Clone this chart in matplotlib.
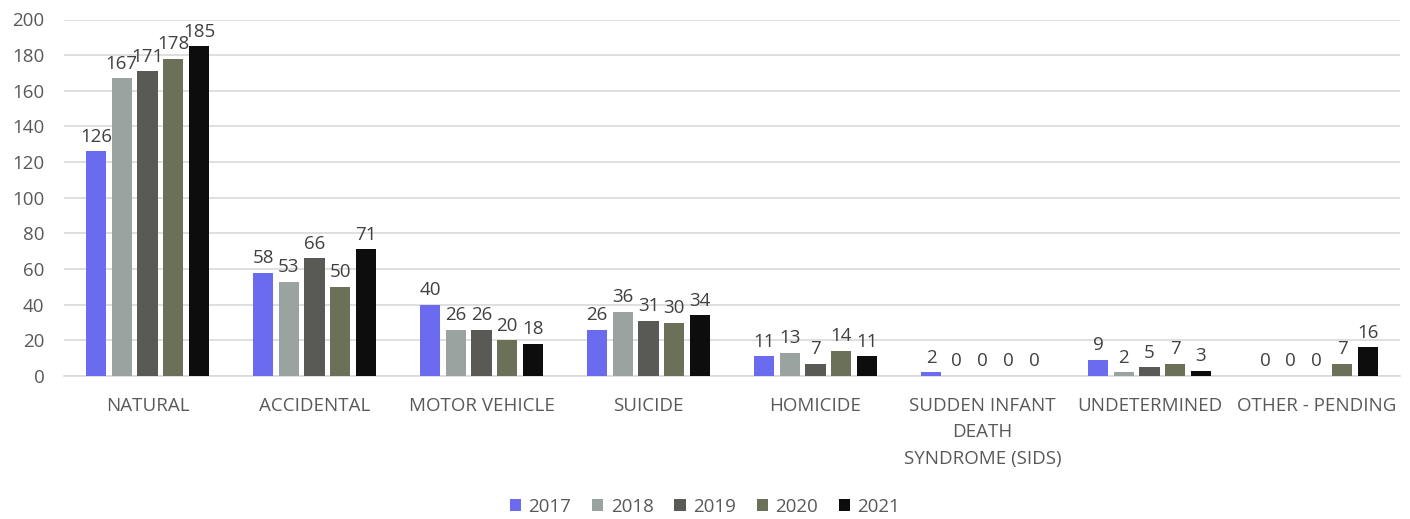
import numpy as np
import matplotlib.pyplot as plt

categories = ['NATURAL', 'ACCIDENTAL', 'MOTOR VEHICLE', 'SUICIDE', 'HOMICIDE',
              'SUDDEN INFANT\nDEATH\nSYNDROME (SIDS)', 'UNDETERMINED', 'OTHER - PENDING']
years = ['2017', '2018', '2019', '2020', '2021']
v2017 = [126, 58, 40, 26, 11, 2, 9, 0]
v2018 = [167, 53, 26, 36, 13, 0, 2, 0]
v2019 = [171, 66, 26, 31, 7, 0, 5, 0]
v2020 = [178, 50, 20, 30, 14, 0, 7, 7]
v2021 = [185, 71, 18, 34, 11, 0, 3, 16]
series = [v2017, v2018, v2019, v2020, v2021]
colors = ['#6B6BF0', '#9AA3A0', '#595A55', '#6B7059', '#0D0D0D']

plt.rcParams['font.family'] = ['Open Sans', 'DejaVu Sans']
txt = '#595959'
fs = 13.5

fig = plt.figure(figsize=(14.1, 5.19), dpi=100)
ax = fig.add_axes([64 / 1410, 1 - 376 / 519, 1336 / 1410, (376 - 19.5) / 519])

x = np.arange(len(categories))
step = 0.154
width = 0.12
for i, (vals, c, yr) in enumerate(zip(series, colors, years)):
    pos = x + (i - 2) * step
    bars = ax.bar(pos, vals, width, color=c, label=yr, zorder=3)
    ax.bar_label(bars, labels=[str(v) for v in vals], padding=4,
                 fontsize=fs, color='#404040')

ax.set_xlim(-0.5, len(categories) - 0.5)
ax.set_ylim(0, 200)
ax.set_yticks(range(0, 201, 20))
ax.yaxis.grid(True, color='#D9D9D9', linewidth=1.2, zorder=0)
for s in ['top', 'right', 'left']:
    ax.spines[s].set_visible(False)
ax.spines['bottom'].set_color('#D9D9D9')
ax.spines['bottom'].set_linewidth(1.2)
ax.tick_params(axis='both', length=0, labelsize=fs, colors=txt)
ax.tick_params(axis='x', pad=15)
ax.tick_params(axis='y', pad=14)
ax.set_xticks(x)
ax.set_xticklabels(categories, linespacing=1.6)

ax.legend(loc='center', bbox_to_anchor=(0.5, (519 - 507) / 519),
          bbox_transform=fig.transFigure, ncol=5, frameon=False, fontsize=fs,
          handlelength=0.6, handleheight=0.6, handletextpad=0.4, columnspacing=1.1,
          labelcolor=txt)

fig.savefig('out.png', dpi=100)
